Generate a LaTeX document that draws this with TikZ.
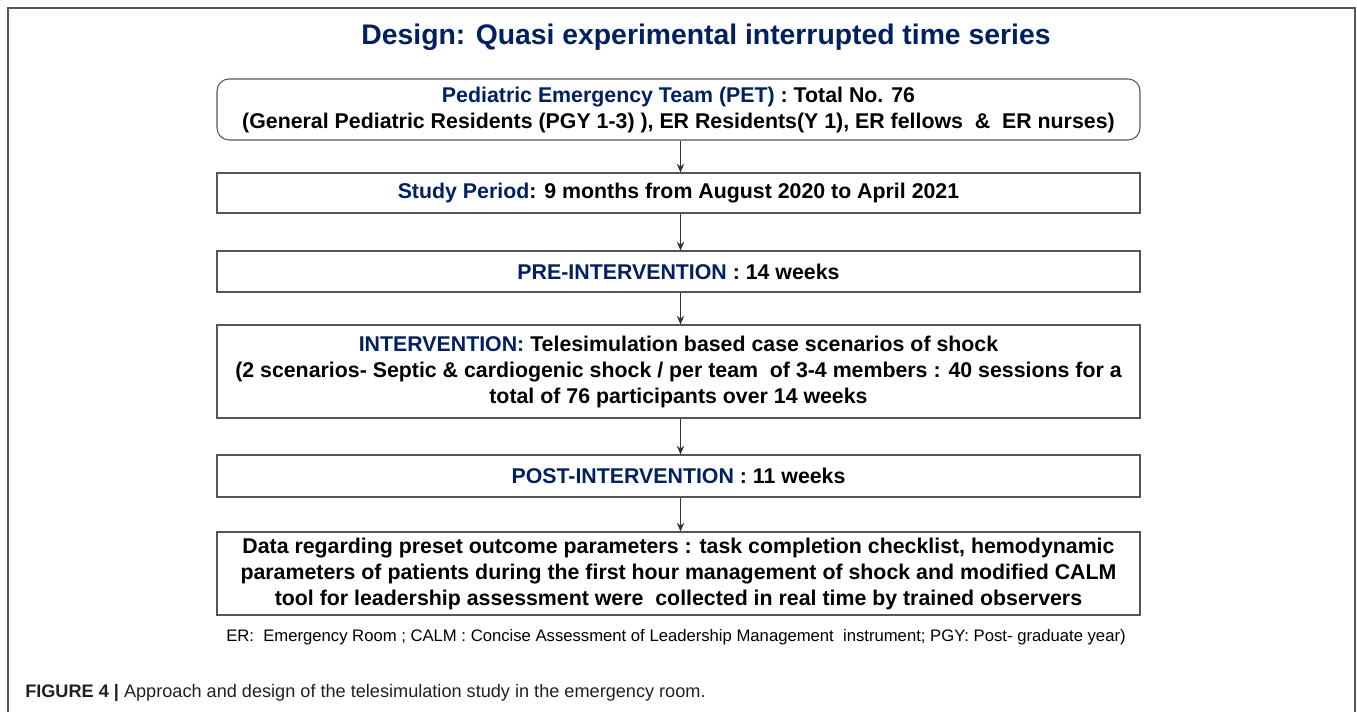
\documentclass[tikz,border=0pt]{standalone}
\usepackage{fontspec}
\setmainfont{Liberation Sans}
\usepackage{xcolor}
\definecolor{navyblue}{RGB}{0, 32, 96}
\definecolor{framegray}{RGB}{85, 85, 85}
\definecolor{captiongray}{RGB}{35, 31, 32}
\usetikzlibrary{arrows.meta,positioning}

\begin{document}
\begin{tikzpicture}[
    x=0.75pt, y=-0.75pt,
    stagebox/.style={
        rectangle,
        draw=framegray,
        line width=0.8pt,
        minimum width=692.25pt,
        align=center,
        inner sep=0pt,
        font=\fontsize{16}{19.5}\selectfont\bfseries
    },
    arrow/.style={-{Stealth[length=6.5pt,width=5.5pt]},line width=0.6pt,black!80}
]
    \useasboundingbox (0,0) rectangle (1357,712);
    % Frame
    \draw[framegray, line width=0.9pt] (8,712) -- (8,8) -- (1355,8) -- (1355,712);

    % Title
    \node[font=\fontsize{21.25}{25}\selectfont\bfseries, text=navyblue] (title) at (706,37) {Design: Quasi experimental interrupted time series};

    % Stages
    \node[stagebox, rounded corners=9pt, minimum height=45.75pt] (pet) at (678.5,109.5)
        {\textcolor{navyblue}{Pediatric Emergency Team (PET)} : Total No. 76\\
         (General Pediatric Residents (PGY 1-3) ), ER Residents(Y 1), ER fellows \ \& \ ER nurses)};
    \node[stagebox, minimum height=30pt] (period) at (678.5,193)
        {\textcolor{navyblue}{Study Period}: 9 months from August 2020 to April 2021};
    \node[stagebox, minimum height=30.75pt] (pre) at (678.5,271.5)
        {\textcolor{navyblue}{PRE-INTERVENTION} : 14 weeks};
    \node[stagebox, minimum height=69.75pt] (interv) at (678.5,371.5)
        {\textcolor{navyblue}{INTERVENTION:} Telesimulation based case scenarios of shock\\
         (2 scenarios- Septic \& cardiogenic shock / per team \ of 3-4 members : 40 sessions for a\\
         total of 76 participants over 14 weeks};
    \node[stagebox, minimum height=31.5pt] (post) at (678.5,476)
        {\textcolor{navyblue}{POST-INTERVENTION} : 11 weeks};
    \node[stagebox, minimum height=62.25pt] (data) at (678.5,573.5)
        {Data regarding preset outcome parameters : task completion checklist, hemodynamic\\
         parameters of patients during the first hour management of shock and modified CALM\\
         tool for leadership assessment were \ collected in real time by trained observers};

    % Arrows
    \draw[arrow] ([xshift=1.5pt]pet.south) -- ([xshift=1.5pt]period.north);
    \draw[arrow] ([xshift=1.5pt]period.south) -- ([xshift=1.5pt]pre.north);
    \draw[arrow] ([xshift=1.5pt]pre.south) -- ([xshift=1.5pt]interv.north);
    \draw[arrow] ([xshift=1.5pt]interv.south) -- ([xshift=1.5pt]post.north);
    \draw[arrow] ([xshift=1.5pt]post.south) -- ([xshift=1.5pt]data.north);

    % Notes
    \node[font=\fontsize{12.5}{15}\selectfont] (abbrev) at (676,637)
        {ER: \ Emergency Room ; CALM : Concise Assessment of Leadership Management \ instrument; PGY: Post- graduate year)};
    \node[anchor=west, inner sep=0pt, text=captiongray, font=\fontsize{13.6}{16}\selectfont] (caption) at (25,693)
        {\textbf{FIGURE 4 |} Approach and design of the telesimulation study in the emergency room.};
\end{tikzpicture}
\end{document}
